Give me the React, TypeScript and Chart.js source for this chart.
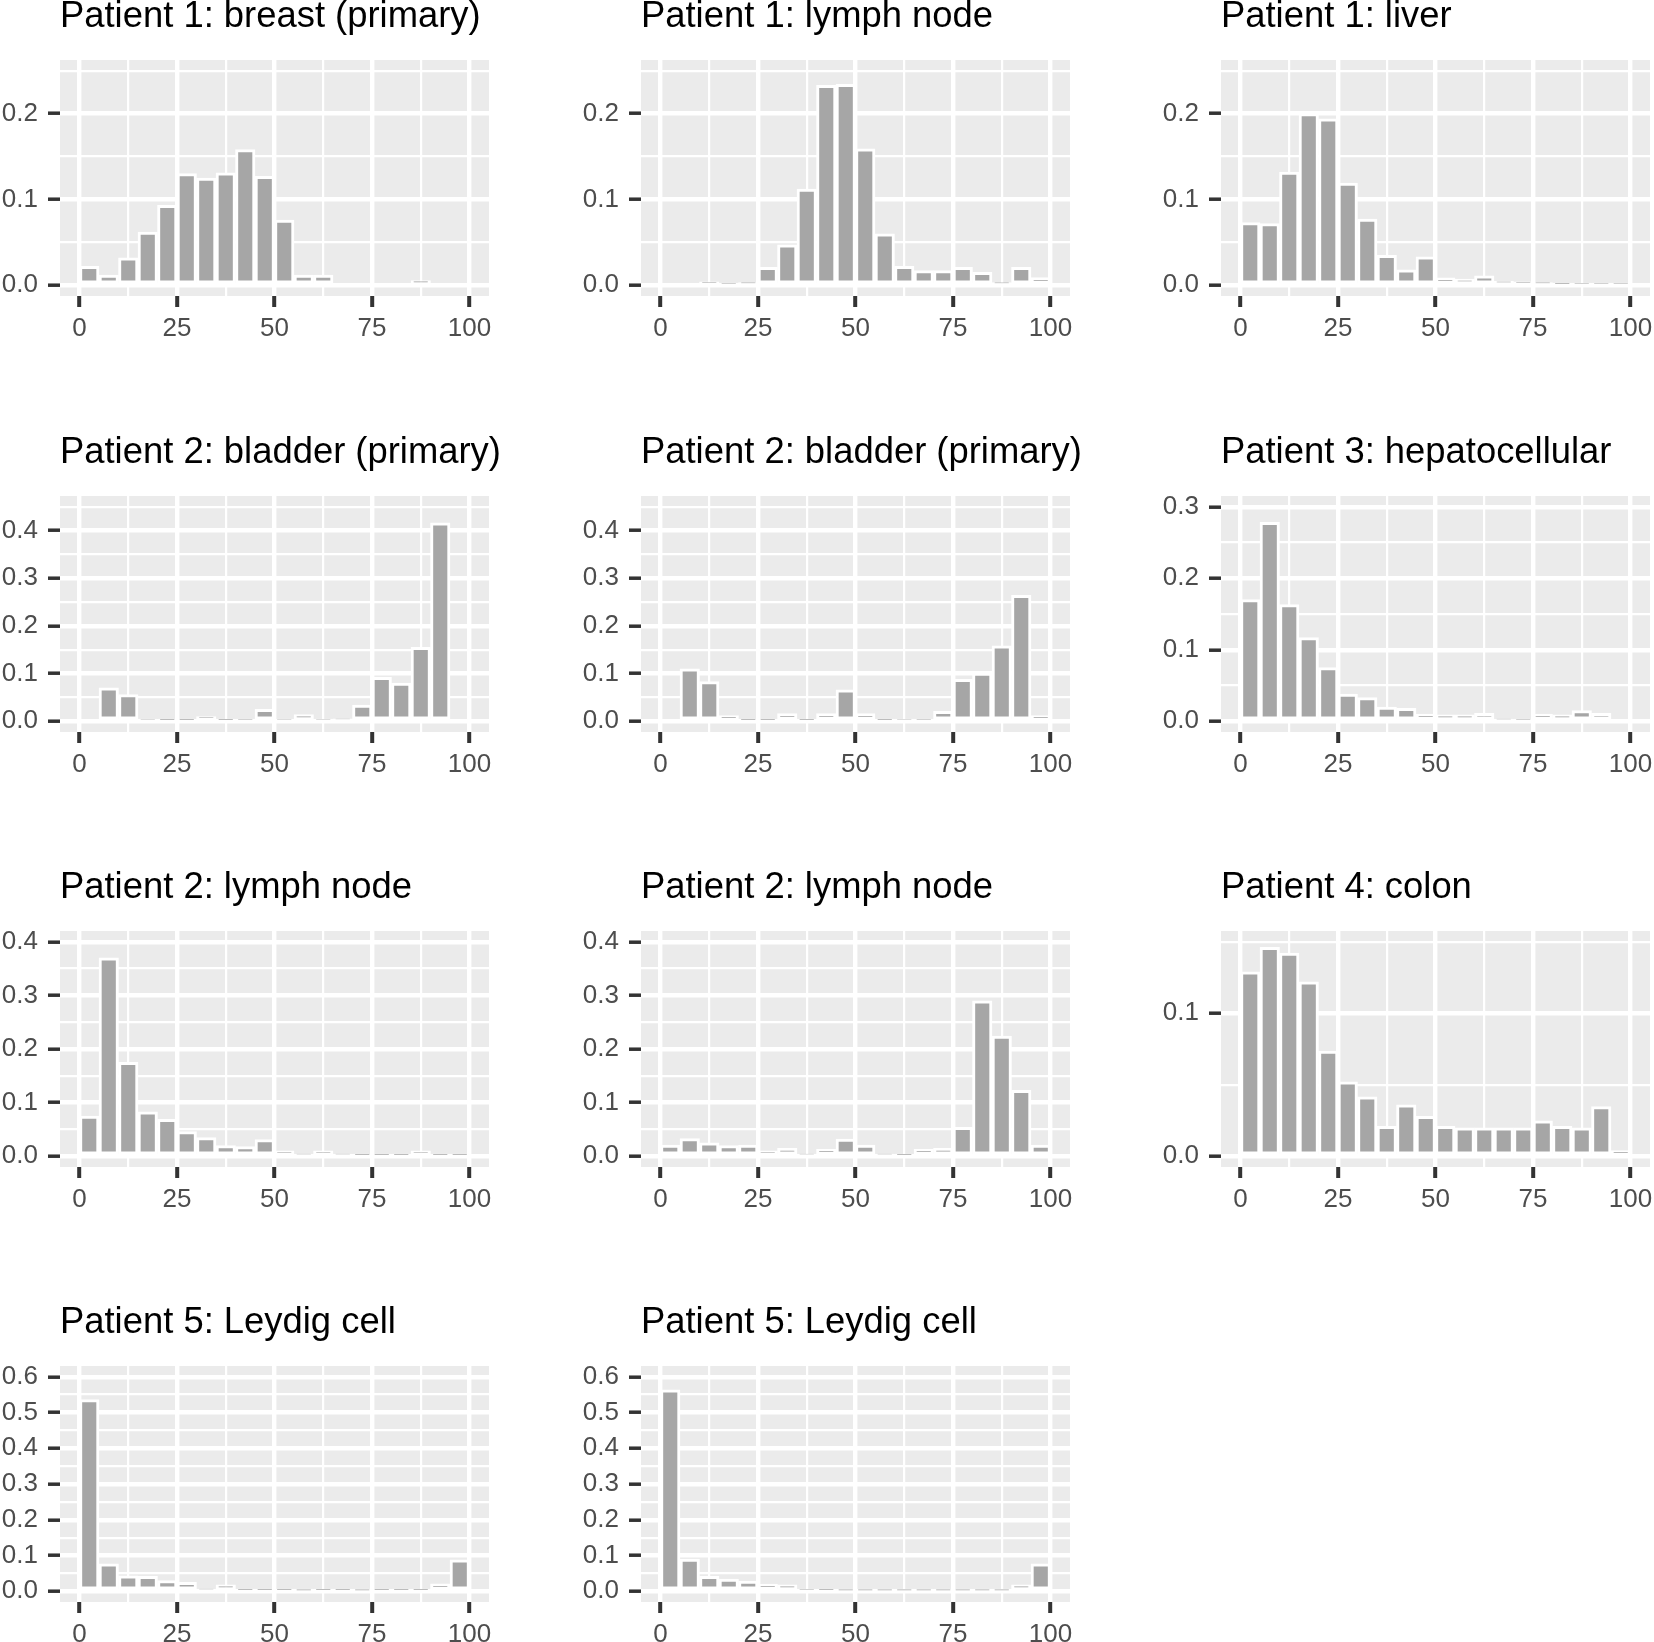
import React, { useEffect, useRef } from "react";
import { Chart, registerables } from "chart.js";

Chart.register(...registerables);

// histogram bins (width 5) and axis breaks
const binCentres = [2.5, 7.5, 12.5, 17.5, 22.5, 27.5, 32.5, 37.5, 42.5, 47.5, 52.5, 57.5, 62.5, 67.5, 72.5, 77.5, 82.5, 87.5, 92.5, 97.5];
const xBreaks = [0, 12.5, 25, 37.5, 50, 62.5, 75, 87.5, 100];
const xLabelled = [0, 25, 50, 75, 100];

const panelTitles = [
  "Patient 1: breast (primary)",
  "Patient 1: lymph node",
  "Patient 1: liver",
  "Patient 2: bladder (primary)",
  "Patient 2: bladder (primary)",
  "Patient 3: hepatocellular",
  "Patient 2: lymph node",
  "Patient 2: lymph node",
  "Patient 4: colon",
  "Patient 5: Leydig cell",
  "Patient 5: Leydig cell",
];

// upper limit of each panel's data range (before the 5% expansion)
const panelYMax = [0.25, 0.25, 0.25, 0.45, 0.45, 0.3, 0.4, 0.4, 0.15, 0.6, 0.6];

const p1Breast = [0.022, 0.012, 0.032, 0.062, 0.093, 0.13, 0.125, 0.131, 0.158, 0.127, 0.076, 0.012, 0.012, 0, 0, 0, 0, 0.0055, 0, 0];
const p1Lymph = [0, 0, 0.004, 0.001, 0.003, 0.021, 0.047, 0.112, 0.233, 0.234, 0.159, 0.06, 0.022, 0.017, 0.017, 0.021, 0.015, 0.003, 0.021, 0.009];
const p1Liver = [0.073, 0.072, 0.132, 0.2, 0.194, 0.119, 0.077, 0.035, 0.018, 0.033, 0.0087, 0.0073, 0.011, 0.005, 0.004, 0.003, 0.002, 0.0015, 0.001, 0.001];
const p2BladderA = [0, 0.07, 0.056, 0.004, 0.002, 0.002, 0.01, 0.002, 0.003, 0.025, 0.004, 0.014, 0.004, 0.005, 0.034, 0.092, 0.08, 0.155, 0.416, 0];
const p2BladderB = [0, 0.11, 0.083, 0.012, 0.002, 0.002, 0.016, 0.002, 0.016, 0.066, 0.016, 0.002, 0.004, 0.003, 0.021, 0.088, 0.101, 0.158, 0.264, 0.012];
const p3Hepato = [0.17, 0.278, 0.163, 0.117, 0.075, 0.038, 0.033, 0.02, 0.018, 0.01, 0.009, 0.009, 0.011, 0.003, 0.002, 0.01, 0.009, 0.015, 0.011, 0];
const p2LymphA = [0.075, 0.37, 0.175, 0.083, 0.069, 0.046, 0.035, 0.02, 0.018, 0.031, 0.01, 0.004, 0.01, 0.004, 0.003, 0.002, 0.002, 0.01, 0.003, 0.002];
const p2LymphB = [0.021, 0.033, 0.025, 0.02, 0.021, 0.01, 0.015, 0.004, 0.013, 0.032, 0.021, 0.004, 0.003, 0.013, 0.015, 0.054, 0.29, 0.224, 0.123, 0.021];
const p4Colon = [0.129, 0.146, 0.142, 0.122, 0.0735, 0.052, 0.0415, 0.021, 0.036, 0.028, 0.021, 0.0198, 0.0198, 0.0198, 0.0198, 0.0247, 0.021, 0.0198, 0.0347, 0.004];
const p5LeydigA = [0.536, 0.077, 0.043, 0.042, 0.03, 0.025, 0.006, 0.018, 0.003, 0.003, 0.003, 0.002, 0.003, 0.003, 0.002, 0.003, 0.003, 0.003, 0.021, 0.088];
const p5LeydigB = [0.563, 0.09, 0.042, 0.034, 0.0285, 0.02, 0.018, 0.004, 0.003, 0.002, 0.002, 0.002, 0.002, 0.002, 0.002, 0.002, 0.002, 0.002, 0.018, 0.077];

const panelValues = [p1Breast, p1Lymph, p1Liver, p2BladderA, p2BladderB, p3Hepato, p2LymphA, p2LymphB, p4Colon, p5LeydigA, p5LeydigB];

const FONT = "'Liberation Sans', Arial, Helvetica, sans-serif";
const CANVAS_W = 549;
const CANVAS_H = 356;
const colLeft = [-10, 571, 1151];
const rowTop = [-10, 426, 861, 1296];

const panelBackground = {
  id: "panelBackground",
  beforeDraw(chart: any) {
    const { ctx, chartArea } = chart;
    ctx.save();
    ctx.fillStyle = "#EBEBEB";
    ctx.fillRect(chartArea.left, chartArea.top, chartArea.right - chartArea.left, chartArea.bottom - chartArea.top);
    ctx.restore();
  },
};

// ggplot puts the title flush with the panel, not with the axis labels
const titleOverPanel = {
  id: "titleOverPanel",
  afterLayout(chart: any) {
    const block = chart.titleBlock;
    if (block) {
      block.left = chart.chartArea.left;
      block.right = chart.chartArea.left + 700;
    }
  },
};

const isMajorY = (v: number) => Math.round(v * 20) % 2 === 0;

interface HistPanelProps {
  title: string;
  values: number[];
  yMax: number;
  left: number;
  top: number;
}

const HistPanel = ({ title, values, yMax, left, top }: HistPanelProps) => {
  const canvasRef = useRef<HTMLCanvasElement>(null);

  useEffect(() => {
    const yTop = yMax * 1.05;
    const steps = Math.floor(yTop / 0.05 + 1e-9);
    const yBreaks: number[] = [];
    for (let i = 0; i <= steps; i++) yBreaks.push(Math.round(i * 5) / 100);

    const chart = new Chart(canvasRef.current as HTMLCanvasElement, {
      type: "bar",
      data: {
        datasets: [
          {
            data: binCentres.map((x, i) => ({ x, y: values[i] })),
            backgroundColor: "#A6A6A6",
            borderColor: "#FFFFFF",
            borderWidth: 3,
            borderSkipped: false,
            barPercentage: 1,
            categoryPercentage: 1,
          } as any,
        ],
      },
      options: {
        animation: false,
        responsive: false,
        devicePixelRatio: 1,
        events: [],
        layout: { padding: { left: 0, right: 50, top: 0, bottom: 0 } },
        plugins: {
          legend: { display: false },
          tooltip: { enabled: false },
          title: {
            display: true,
            text: title,
            align: "start",
            color: "#000000",
            font: { family: FONT, size: 36.4, weight: "normal" },
            padding: { top: 5.6, bottom: 20.7 },
          },
        },
        scales: {
          x: {
            type: "linear",
            min: -5,
            max: 105,
            offset: false,
            afterBuildTicks: (scale: any) => {
              scale.ticks = xBreaks.map((value) => ({ value }));
            },
            afterFit: (scale: any) => {
              scale.height = 50;
            },
            border: { display: false },
            grid: {
              offset: false,
              color: "#FFFFFF",
              lineWidth: (ctx: any) => (xLabelled.includes(ctx.tick?.value) ? 4.4 : 2.2),
              drawTicks: true,
              tickLength: 11,
              tickWidth: 4,
              tickColor: (ctx: any) => (xLabelled.includes(ctx.tick?.value) ? "#333333" : "rgba(0,0,0,0)"),
            },
            ticks: {
              autoSkip: false,
              maxRotation: 0,
              padding: 6,
              color: "#4D4D4D",
              font: { family: FONT, size: 26 },
              callback: (v: any) => (xLabelled.includes(Number(v)) ? String(v) : ""),
            },
          },
          y: {
            type: "linear",
            min: -0.05 * yMax,
            max: yTop,
            afterBuildTicks: (scale: any) => {
              scale.ticks = yBreaks.map((value) => ({ value }));
            },
            afterFit: (scale: any) => {
              scale.width = 70;
            },
            border: { display: false },
            grid: {
              color: "#FFFFFF",
              lineWidth: (ctx: any) => (isMajorY(ctx.tick?.value ?? 0) ? 4.4 : 2.2),
              drawTicks: true,
              tickLength: 12,
              tickWidth: 3.5,
              tickColor: (ctx: any) => (isMajorY(ctx.tick?.value ?? 0) ? "#333333" : "rgba(0,0,0,0)"),
            },
            ticks: {
              autoSkip: false,
              padding: 10,
              color: "#4D4D4D",
              font: { family: FONT, size: 26 },
              callback: (v: any) => (isMajorY(Number(v)) ? Number(v).toFixed(1) : ""),
            },
          },
        },
      } as any,
      plugins: [panelBackground, titleOverPanel],
    });

    return () => {
      chart.destroy();
    };
  }, [title, values, yMax]);

  return (
    <div style={{ position: "absolute", left, top, width: CANVAS_W, height: CANVAS_H }}>
      <canvas ref={canvasRef} width={CANVAS_W} height={CANVAS_H} />
    </div>
  );
};

export default function App() {
  return (
    <div
      style={{
        position: "absolute",
        left: 0,
        top: 0,
        width: 1654,
        height: 1642,
        overflow: "hidden",
        background: "#FFFFFF",
      }}
    >
      {panelTitles.map((title, i) => (
        <HistPanel
          key={i}
          title={title}
          values={panelValues[i]}
          yMax={panelYMax[i]}
          left={colLeft[i % 3]}
          top={rowTop[Math.floor(i / 3)]}
        />
      ))}
    </div>
  );
}
